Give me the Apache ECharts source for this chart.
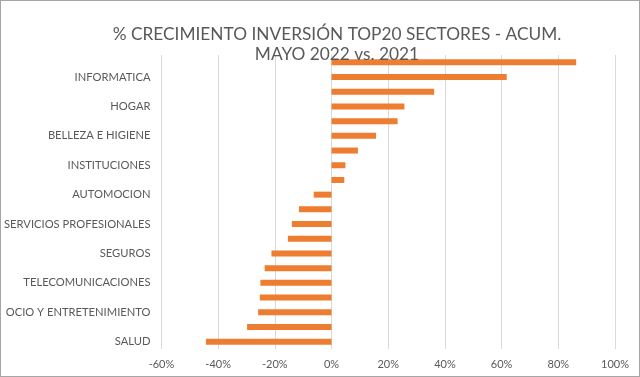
<!DOCTYPE html>
<html>
<head>
<meta charset="utf-8">
<script src="https://cdn.jsdelivr.net/npm/echarts@6/dist/echarts.min.js"></script>
<style>
  html, body { margin: 0; padding: 0; background: #fff; }
  #chart { width: 640px; height: 377px; box-sizing: border-box; border: 1px solid #a6a6a6; }
</style>
</head>
<body>
<div id="chart"></div>
<script>
// sectores, de arriba a abajo (las etiquetas impares no se ven en el original)
const categories = [
  'TRANSPORTE Y TURISMO', 'INFORMATICA', 'ENERGIA', 'HOGAR', 'TEXTIL Y VESTIMENTA',
  'BELLEZA E HIGIENE', 'DEPORTES', 'INSTITUCIONES', 'DISTRIBUCION', 'AUTOMOCION',
  'ALIMENTACION', 'SERVICIOS PROFESIONALES', 'BEBIDAS', 'SEGUROS', 'FINANZAS',
  'TELECOMUNICACIONES', 'LIMPIEZA', 'OCIO Y ENTRETENIMIENTO', 'CONSTRUCCION', 'SALUD'
]
const growth = [
  86.3, 61.8, 36.2, 25.7, 23.3, 15.7, 9.3, 4.9, 4.5, -6.3,
  -11.5, -14.0, -15.4, -21.2, -23.6, -25.1, -25.3, -25.9, -29.8, -44.3
]
const xTicks = { min: -60, max: 100, step: 20 }

const chart = echarts.init(document.getElementById('chart'))
chart.setOption({
  animation: false,
  title: {
    text: '% CRECIMIENTO INVERSIÓN TOP20 SECTORES - ACUM.\nMAYO 2022 vs. 2021',
    left: 331,
    textAlign: 'center',
    top: 18,
    textStyle: {
      fontFamily: 'Lato',
      fontSize: 17.3,
      fontWeight: 'normal',
      color: '#595959',
      lineHeight: 20,
      align: 'center',
    },
  },
  grid: { left: 159, right: 24, top: 54, bottom: 27 },
  xAxis: {
    type: 'value',
    min: xTicks.min,
    max: xTicks.max,
    interval: xTicks.step,
    axisLine: { show: false },
    axisTick: { show: false },
    axisLabel: {
      formatter: (v) => v + '%',
      color: '#595959',
      fontFamily: 'Lato',
      fontSize: 11,
      margin: 10,
    },
    splitLine: { show: true, lineStyle: { color: '#d9d9d9', width: 1 } },
  },
  yAxis: {
    type: 'category',
    inverse: true,
    data: categories,
    axisLine: { show: false, onZero: false },
    axisTick: { show: false },
    axisLabel: {
      interval: (i) => i % 2 === 1,
      color: '#595959',
      fontFamily: 'Lato',
      fontSize: 11.2,
      margin: 11,
    },
  },
  series: [
    {
      type: 'bar',
      data: growth,
      barWidth: 6,
      itemStyle: { color: '#ED7D31' },
    },
  ],
})
</script>
</body>
</html>
